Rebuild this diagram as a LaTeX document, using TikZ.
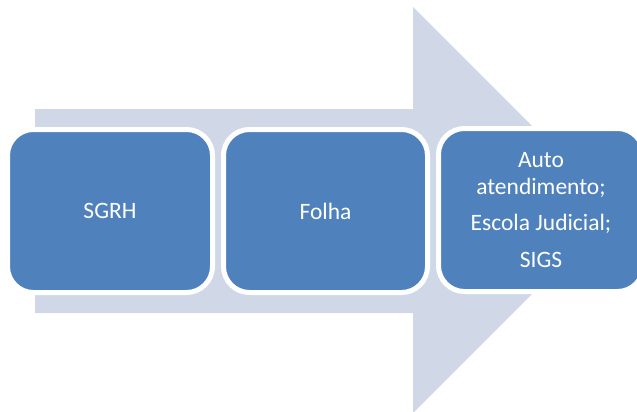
\documentclass[tikz,border=0pt]{standalone}
\usepackage{fontspec}
\setmainfont{Carlito}
\definecolor{arrowfill}{RGB}{208,216,232}
\definecolor{boxfill}{RGB}{79,129,189}
\begin{document}
\begin{tikzpicture}[x=1pt,y=-1pt,
  stagebox/.style={draw=white, line width=5pt, fill=boxfill, rounded corners=26pt,
    minimum width=205pt, minimum height=163pt, inner sep=0pt, text=white,
    font=\fontsize{23.5}{26.3}\selectfont, align=center}]
\useasboundingbox (0,0) rectangle (637,412);
\fill[arrowfill] (35,109) -- (413,109) -- (413,7) -- (616,210) -- (413,413) -- (413,313) -- (35,313) -- cycle;
\node[stagebox] (sgrh) at (110,211) {SGRH};
\node[stagebox, minimum width=204pt] (folha) at (325.5,211) {Folha};
\node[stagebox] (auto) at (541,210) {Auto\\atendimento;\\[10.5pt]Escola Judicial;\\[10pt]SIGS};
\end{tikzpicture}
\end{document}
